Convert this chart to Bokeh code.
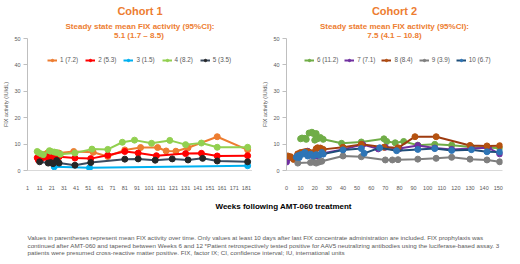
from bokeh.plotting import figure
from bokeh.models import Title, Legend, LegendItem, Label, FixedTicker, Range1d
from bokeh.layouts import column, row
from bokeh.embed import file_html
from bokeh.resources import INLINE

# ---------------- data ----------------
c1_ticks = [1, 11, 21, 31, 41, 51, 61, 71, 81, 91, 101, 111, 121, 131, 141, 151, 161, 171, 181]
c2_ticks = [0, 10, 20, 30, 40, 50, 60, 70, 80, 90, 100, 110, 120, 130, 140, 150]
y_ticks = [0, 10, 20, 30, 40, 50]

s1_x = [12, 15, 17, 19, 21, 24, 27, 39, 55, 67, 81, 94, 108, 115, 123, 133, 157, 182]
s1_y = [5.2, 6.0, 6.5, 7.2, 6.8, 6.5, 6.6, 7.2, 6.9, 5.3, 7.8, 8.7, 8.7, 7.4, 7.3, 8.6, 12.8, 7.8]
s2_x = [9, 10, 12, 14, 16, 18, 20, 22, 24, 27, 40, 53, 67, 81, 92, 107, 131, 144, 157, 182]
s2_y = [4.8, 3.9, 4.2, 4.9, 5.5, 4.5, 5.2, 4.8, 5.6, 5.2, 4.7, 4.5, 5.8, 7.2, 6.6, 5.6, 6.4, 6.5, 5.5, 5.6]
s3_x = [23, 52, 182]
s3_y = [1.4, 1.0, 1.8]
s4_x = [9, 10, 12, 14, 19, 20, 23, 25, 28, 40, 54, 67, 79, 89, 103, 118, 131, 144, 157, 182]
s4_y = [7.2, 6.8, 6.3, 6.0, 7.5, 7.3, 7.0, 6.8, 6.2, 6.6, 8.1, 8.0, 10.7, 11.5, 10.3, 11.4, 9.8, 10.4, 8.8, 8.8]
s5_x = [11, 18, 20, 22, 25, 27, 40, 53, 81, 92, 106, 120, 133, 145, 157, 182]
s5_y = [3.3, 2.8, 3.0, 2.6, 3.8, 2.8, 2.0, 3.0, 4.3, 4.4, 3.9, 4.4, 4.0, 4.6, 3.6, 3.3]

s6_x = [10, 11, 13, 14, 16, 18, 19, 20, 21, 22, 24, 26, 39, 53, 69, 71, 77, 83, 93, 105, 117, 131, 143, 151]
s6_y = [12.0, 12.3, 12.2, 11.8, 14.2, 14.5, 14.0, 11.5, 14.0, 12.0, 12.5, 11.8, 10.3, 10.8, 12.0, 11.0, 10.5, 11.0, 9.6, 9.9, 9.6, 8.9, 8.6, 8.5]
s7_x = [0, 8, 10, 13, 15, 17, 19, 21, 23, 26, 40, 54, 65, 70, 80, 93, 105, 117, 131, 143, 151]
s7_y = [3.2, 6.0, 6.5, 7.0, 7.3, 5.8, 6.3, 5.5, 5.8, 6.5, 8.0, 9.8, 8.2, 8.8, 8.3, 9.5, 8.5, 8.0, 8.3, 8.6, 6.3]
s8_x = [1, 3, 5, 8, 10, 12, 14, 16, 19, 21, 22, 24, 26, 40, 53, 69, 79, 91, 106, 130, 142, 151]
s8_y = [5.5, 5.2, 4.2, 6.3, 6.8, 7.0, 7.2, 7.0, 6.8, 8.2, 8.6, 8.5, 8.0, 8.8, 9.9, 8.8, 8.6, 12.8, 12.8, 9.5, 9.3, 9.4]
s9_x = [8, 17, 19, 21, 23, 25, 40, 53, 70, 75, 79, 93, 106, 117, 130, 142, 151]
s9_y = [2.8, 3.0, 3.2, 2.8, 3.2, 3.5, 5.5, 5.2, 4.0, 4.0, 4.1, 4.3, 4.6, 5.0, 4.3, 4.0, 3.3]
s10_x = [7, 8, 9, 10, 12, 13, 15, 17, 19, 21, 23, 25, 26, 40, 53, 55, 66, 78, 93, 105, 117, 131, 142, 151]
s10_y = [5.0, 5.6, 4.9, 6.0, 6.3, 6.8, 5.5, 6.2, 5.5, 6.0, 5.8, 6.8, 6.2, 7.8, 8.3, 6.5, 8.6, 7.5, 8.0, 8.3, 7.6, 7.9, 7.1, 7.0]

c1_labels = ["1 (7.2)", "2 (5.3)", "3 (1.5)", "4 (8.2)", "5 (3.5)"]
c2_labels = ["6 (11.2)", "7 (7.1)", "8 (8.4)", "9 (3.9)", "10 (6.7)"]

x_title = "Weeks following AMT-060 treatment"
foot_lines = [
    "Values in parentheses represent mean FIX activity over time. Only values at least 10 days after last FIX concentrate administration are included. FIX prophylaxis was",
    "continued after AMT-060 and tapered between Weeks 6 and 12 *Patient retrospectively tested positive for AAV5 neutralizing antibodies using the luciferase-based assay. 3",
    "patients were presumed cross-reactive matter positive. FIX, factor IX; CI, confidence interval; IU, international units",
]

FONT = "Liberation Sans"
ORANGE = "#ED7D31"
GREY = "#595959"


def panel(x_start, x_end, xticks, series, labels, heads, border_left, border_right, leg_x, leg_sp):
    p = figure(width=252, height=192, title=None,
               x_range=Range1d(x_start, x_end), y_range=Range1d(0, 50),
               output_backend="svg", toolbar_location=None,
               min_border_left=border_left, min_border_right=border_right,
               min_border_top=34, min_border_bottom=16)
    p.outline_line_color = None
    p.xgrid.visible = False
    p.ygrid.visible = False
    p.background_fill_color = "white"
    p.border_fill_color = "white"

    p.yaxis.ticker = FixedTicker(ticks=y_ticks)
    p.xaxis.ticker = FixedTicker(ticks=xticks)
    for ax in (p.xaxis[0], p.yaxis[0]):
        ax.minor_tick_line_color = None
        ax.major_label_text_font = FONT
        ax.major_label_text_font_size = "5.5px"
        ax.major_label_text_color = GREY
    p.xaxis.axis_line_color = "#D9D9D9"
    p.xaxis.major_tick_line_color = None
    p.xaxis.major_label_standoff = 9
    p.yaxis.axis_line_color = "#BFBFBF"
    p.yaxis.major_tick_line_color = "#BFBFBF"
    p.yaxis.major_tick_in = 0
    p.yaxis.major_tick_out = 4
    p.yaxis.major_label_standoff = 3
    p.yaxis.axis_label = "FIX activity (IU/dL)"
    p.yaxis.axis_label_text_font = FONT
    p.yaxis.axis_label_text_font_size = "5.5px"
    p.yaxis.axis_label_text_font_style = "normal"
    p.yaxis.axis_label_text_color = GREY
    p.yaxis.axis_label_standoff = 2

    items = []
    for (xs, ys, lc, mc), lab in zip(series, labels):
        r1 = p.line(xs, ys, line_color=lc, line_width=2)
        r2 = p.scatter(xs, ys, size=6, fill_color=mc, line_color=mc)
        items.append(LegendItem(label=lab, renderers=[r1, r2]))
    leg = Legend(items=items, orientation="horizontal", location=(leg_x, 107),
                 background_fill_alpha=0, border_line_color=None, padding=0, margin=0,
                 spacing=leg_sp, glyph_width=10, glyph_height=6, label_standoff=3,
                 label_width=10, label_height=6,
                 label_text_font=FONT, label_text_font_size="6.3px", label_text_color=GREY)
    p.add_layout(leg)

    p.add_layout(Title(text=heads[2], align="center", offset=-2.5, standoff=-3,
                       text_font=FONT, text_font_style="bold", text_font_size="8px",
                       text_color=ORANGE), "above")
    p.add_layout(Title(text=heads[1], align="center", offset=-2.5, standoff=0,
                       text_font=FONT, text_font_style="bold", text_font_size="8px",
                       text_color=ORANGE), "above")
    p.add_layout(Title(text=heads[0], align="center", offset=-2.5, standoff=5,
                       text_font=FONT, text_font_style="bold", text_font_size="11px",
                       text_color=ORANGE), "above")
    return p


c1_series = [
    (s1_x, s1_y, "#ED7D31", "#ED7D31"),
    (s2_x, s2_y, "#FF0000", "#FF0000"),
    (s3_x, s3_y, "#00B0F0", "#00B0F0"),
    (s4_x, s4_y, "#92D050", "#92D050"),
    (s5_x, s5_y, "#3B4A5E", "#262626"),
]
c2_series = [
    (s6_x, s6_y, "#70AD47", "#70AD47"),
    (s7_x, s7_y, "#7030A0", "#7030A0"),
    (s8_x, s8_y, "#9E3B0F", "#B5520F"),
    (s9_x, s9_y, "#7F7F7F", "#7F7F7F"),
    (s10_x, s10_y, "#1F4E79", "#2E75B6"),
]

p1 = panel(1, 186, c1_ticks, c1_series, c1_labels,
           ["Cohort 1", "Steady state mean FIX activity (95%CI):", "5.1  (1.7 \u2013 8.5)"],
           23, 0, 20, 7)
p2 = panel(0, 153, c2_ticks, c2_series, c2_labels,
           ["Cohort 2", "Steady state mean FIX activity (95%CI):", "7.5 (4.1 \u2013 10.8)"],
           34, 2, 18, 6)

# bottom text block: a blank pixel-unit canvas
pb = figure(width=504, height=68, x_range=Range1d(0, 504), y_range=Range1d(0, 68),
            output_backend="svg", toolbar_location=None, title=None,
            min_border=0, min_border_left=0, min_border_right=0,
            min_border_top=0, min_border_bottom=0)
pb.axis.visible = False
pb.grid.visible = False
pb.outline_line_color = None
pb.background_fill_color = "white"
pb.border_fill_color = "white"
pb.add_layout(Label(x=215, y=54, text=x_title, text_font=FONT, text_font_style="bold",
                    text_font_size="8px", text_color="#000000",
                    text_align="left", text_baseline="middle"))
for i, line in enumerate(foot_lines):
    pb.add_layout(Label(x=27, y=23 - 7.6 * i, text=line, text_font=FONT,
                        text_font_size="6.25px", text_color=GREY,
                        text_align="left", text_baseline="middle"))

layout = column(row(p1, p2, spacing=0), pb, spacing=0)

open("out.html", "w").write(file_html(layout, INLINE))
